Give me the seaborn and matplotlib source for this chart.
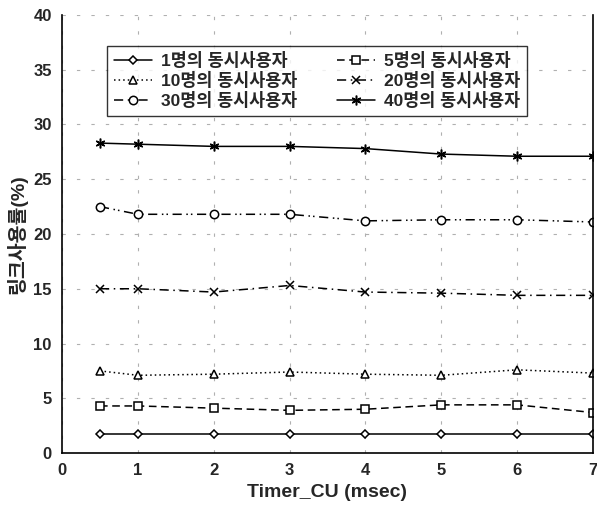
import matplotlib
matplotlib.use("Agg")
import matplotlib.pyplot as plt
import pandas as pd
import seaborn as sns

sns.set_style("white")
plt.rcParams['font.family'] = ['Liberation Sans', 'Noto Sans CJK KR']
plt.rcParams['font.weight'] = 'bold'

# Timer_CU values (msec)
timer_cu = [0.5, 1, 2, 3, 4, 5, 6, 7]

# link utilisation (%) per number of concurrent users
users_1 = [1.7, 1.7, 1.7, 1.7, 1.7, 1.7, 1.7, 1.7]
users_5 = [4.3, 4.3, 4.1, 3.9, 4.0, 4.4, 4.4, 3.7]
users_10 = [7.5, 7.1, 7.2, 7.4, 7.2, 7.1, 7.6, 7.3]
users_20 = [15.0, 15.0, 14.7, 15.3, 14.7, 14.6, 14.4, 14.4]
users_30 = [22.5, 21.8, 21.8, 21.8, 21.2, 21.3, 21.3, 21.1]
users_40 = [28.3, 28.2, 28.0, 28.0, 27.8, 27.3, 27.1, 27.1]

labels = ['1명의 동시사용자', '5명의 동시사용자', '10명의 동시사용자',
          '20명의 동시사용자', '30명의 동시사용자', '40명의 동시사용자']
series = [users_1, users_5, users_10, users_20, users_30, users_40]

# style per series: linestyle, marker, marker fill, size
styles = [
    ('-', 'D', 'white', 4),
    ((0, (5, 3)), 's', 'white', 6),
    ((0, (1, 2)), '^', 'white', 6),
    ((0, (6, 3, 1, 3)), 'x', 'black', 6),
    ((0, (6, 3, 1, 2, 1, 3)), 'o', 'white', 6),
    ('-', (6, 2, 0), 'black', 7),
]

fig, ax = plt.subplots(figsize=(5.97, 5.16), dpi=100)
fig.subplots_adjust(left=0.104, right=0.993, top=0.971, bottom=0.122)

for vals, lab, (ls, mk, fc, ms) in zip(series, labels, styles):
    df = pd.DataFrame({'x': timer_cu, 'y': vals})
    sns.lineplot(data=df, x='x', y='y', ax=ax, color='black', linestyle=ls,
                 linewidth=1.1, marker=mk, markersize=ms, markerfacecolor=fc,
                 markeredgecolor='black', markeredgewidth=1.1, label=lab)

ax.set_xlim(0, 7)
ax.set_ylim(0, 40)
ax.set_xticks(range(0, 8))
ax.set_yticks(range(0, 41, 5))
ax.grid(True, color='#b0b0b0', linestyle=(0, (3, 10)), linewidth=0.8)
ax.tick_params(axis='both', labelsize=12, direction='out', length=4, width=1)
for t in ax.get_xticklabels() + ax.get_yticklabels():
    t.set_fontweight('bold')

ax.set_xlabel('Timer_CU (msec)', fontsize=14, fontweight='bold')
ax.set_ylabel('링크사용률(%)', fontsize=14, fontweight='bold')

for s in ['left', 'bottom', 'right']:
    ax.spines[s].set_color('black')
    ax.spines[s].set_linewidth(1.2)
ax.spines['top'].set_visible(False)

# legend laid out row by row as in the original
handles, labs = ax.get_legend_handles_labels()
order = [0, 2, 4, 1, 3, 5]
leg = ax.legend([handles[i] for i in order], [labs[i] for i in order],
                ncol=2, loc='upper left', bbox_to_anchor=(0.068, 0.95),
                frameon=True, fancybox=False, edgecolor='black',
                fontsize=12.5, handlelength=2.2, columnspacing=2.3,
                labelspacing=0.15, borderpad=0.4, handletextpad=0.5)
leg.get_frame().set_linewidth(1.0)
for t in leg.get_texts():
    t.set_fontweight('bold')

fig.savefig('out.png', dpi=100)
